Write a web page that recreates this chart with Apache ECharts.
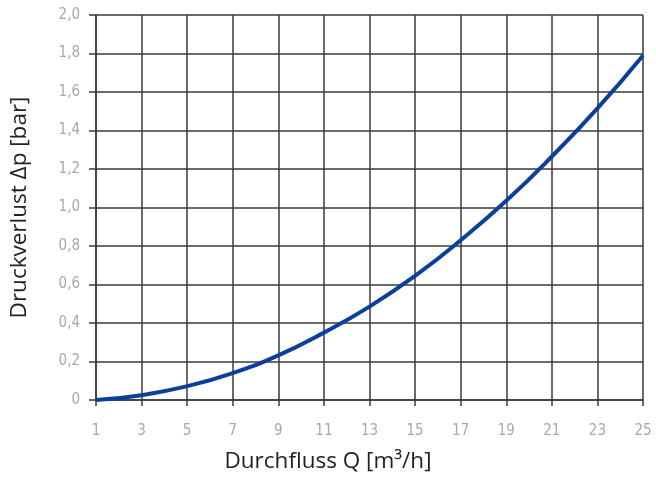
<!DOCTYPE html>
<html>
<head>
<meta charset="utf-8">
<script src="https://cdn.jsdelivr.net/npm/echarts@6/dist/echarts.min.js"></script>
<style>
  html, body { margin: 0; padding: 0; background: #fff; }
  #chart { width: 656px; height: 481px; }
</style>
</head>
<body>
<div id="chart"></div>
<script>
var flowLabels = ['1', '3', '5', '7', '9', '11', '13', '15', '17', '19', '21', '23', '25'];
var pressureLoss = [0.0, 0.025, 0.072, 0.14, 0.232, 0.35, 0.485, 0.645, 0.83, 1.035, 1.265, 1.515, 1.79];

var myChart = echarts.init(document.getElementById('chart'));

var gridColor = '#3a3a3a';
var tickFont = '"Liberation Sans Narrow", "DejaVu Sans Condensed", sans-serif';

option = {
  animation: false,
  grid: {
    left: 95,
    right: 13,
    top: 15,
    bottom: 81
  },
  xAxis: {
    type: 'category',
    data: flowLabels,
    boundaryGap: false,
    name: 'Durchfluss Q [m\u00b3/h]',
    nameLocation: 'middle',
    nameGap: 50,
    nameTextStyle: {
      fontFamily: 'Open Sans',
      fontSize: 22.5,
      color: '#222',
      padding: [0, 83, 0, 0]
    },
    axisLine: { lineStyle: { color: gridColor, width: 1.5 } },
    axisTick: { show: true, inside: false, length: 6, alignWithLabel: true, lineStyle: { color: gridColor, width: 1.5 } },
    axisLabel: {
      margin: 24,
      fontFamily: tickFont,
      fontSize: 15,
      color: '#a8a8a8'
    },
    splitLine: { show: true, lineStyle: { color: gridColor, width: 1.5 } }
  },
  yAxis: {
    type: 'value',
    min: 0,
    max: 2,
    interval: 0.2,
    name: 'Druckverlust \u0394p [bar]',
    nameLocation: 'middle',
    nameGap: 65,
    nameTextStyle: {
      fontFamily: 'Open Sans',
      fontSize: 22.5,
      color: '#222'
    },
    axisLine: { show: true, lineStyle: { color: gridColor, width: 1.5 } },
    axisTick: { show: true, length: 7, lineStyle: { color: gridColor, width: 1.5 } },
    axisLabel: {
      margin: 16,
      fontFamily: tickFont,
      fontSize: 15,
      color: '#a8a8a8',
      formatter: function (v) {
        return v === 0 ? '0' : v.toFixed(1).replace('.', ',');
      }
    },
    splitLine: { show: true, lineStyle: { color: gridColor, width: 1.5 } }
  },
  series: [
    {
      name: 'Druckverlust',
      type: 'line',
      data: pressureLoss,
      smooth: true,
      showSymbol: false,
      lineStyle: { color: '#0b3f9e', width: 4 }
    }
  ]
};

myChart.setOption(option);
</script>
</body>
</html>
